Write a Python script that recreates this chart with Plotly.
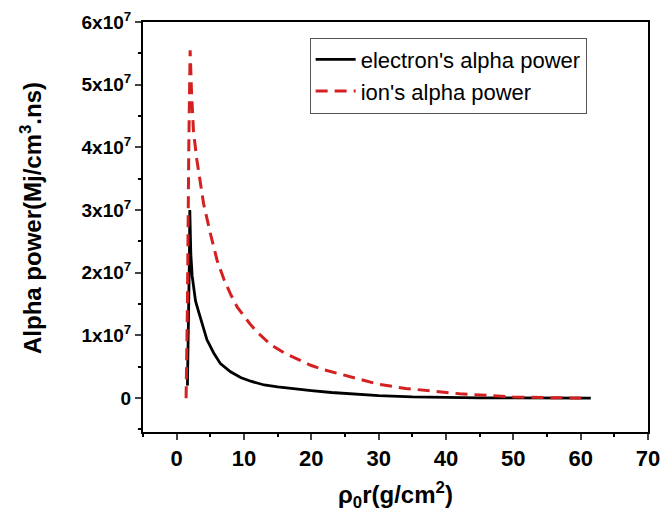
import plotly.graph_objects as go

# electron's alpha power
electron_x = [1.6, 1.75, 1.9, 1.95, 2.1, 2.3, 2.5, 2.8, 3.2, 3.5, 4.0, 4.5, 5.5, 6.5, 8, 9.5, 11, 13, 15, 18, 20, 23, 26, 30, 35, 40, 45, 50, 55, 61.5]
electron_y = [0.2, 1.0, 2.3, 3.0, 2.3, 1.95, 1.75, 1.55, 1.4, 1.3, 1.1, 0.93, 0.72, 0.55, 0.42, 0.33, 0.27, 0.21, 0.18, 0.14, 0.12, 0.09, 0.065, 0.04, 0.02, 0.01, 0.005, 0.003, 0.001, 0.0]

# ion's alpha power
ion_x = [1.4, 1.6, 1.8, 2.0, 2.2, 2.5, 3.0, 3.5, 4.0, 5.0, 6.0, 7.0, 8.0, 9.0, 10, 11, 12, 14, 16, 18, 20, 22, 24, 27, 30, 34, 38, 42, 46, 50, 55, 61]
ion_y = [0.0, 1.5, 4.0, 5.55, 4.9, 4.25, 3.8, 3.43, 3.1, 2.63, 2.2, 1.9, 1.66, 1.45, 1.3, 1.17, 1.05, 0.85, 0.72, 0.62, 0.52, 0.45, 0.39, 0.30, 0.22, 0.155, 0.11, 0.07, 0.045, 0.02, 0.008, 0.0]

scale = 1e7
y_tick_vals = [0, 1, 2, 3, 4, 5, 6]
y_tick_text = ["0", "1x10<sup>7</sup>", "2x10<sup>7</sup>", "3x10<sup>7</sup>", "4x10<sup>7</sup>", "5x10<sup>7</sup>", "6x10<sup>7</sup>"]
x_tick_vals = [0, 10, 20, 30, 40, 50, 60, 70]
x_tick_text = ["0", "10", "20", "30", "40", "50", "60", "70"]
x_title = "ρ<sub>0</sub>r(g/cm<sup>2</sup>)"
y_title = "Alpha power(Mj/cm<sup>3</sup>.ns)"

FONT = "Liberation Sans, Arial, sans-serif"

fig = go.Figure()
fig.add_trace(go.Scatter(x=electron_x, y=[v * scale for v in electron_y], mode="lines",
                         name="electron's alpha power",
                         line=dict(color="black", width=2.8)))
fig.add_trace(go.Scatter(x=ion_x, y=[v * scale for v in ion_y], mode="lines",
                         name="ion's alpha power",
                         line=dict(color="#d42020", width=3, dash="12px,7px")))

fig.update_layout(
    width=667, height=519,
    margin=dict(l=143, r=19, t=22, b=87),
    plot_bgcolor="white", paper_bgcolor="white",
    font=dict(family=FONT, color="black"),
    showlegend=True,
    legend=dict(x=0.33, y=0.962, xanchor="left", yanchor="top",
                bordercolor="#555555", borderwidth=1, bgcolor="white",
                font=dict(size=22, family=FONT), tracegroupgap=0,
                itemwidth=40),
    annotations=[
        dict(text="<b>%s</b>" % x_title, xref="paper", yref="paper",
             x=0.5, y=(432 - 495) / 410, xanchor="center", yanchor="middle",
             showarrow=False, font=dict(size=24)),
        dict(text="<b>%s</b>" % y_title, xref="paper", yref="paper",
             x=(31 - 143) / 505, y=(432 - 218) / 410, xanchor="center", yanchor="middle",
             textangle=-90, showarrow=False, font=dict(size=24)),
    ],
)
fig.update_xaxes(
    range=[-5, 70], tickvals=x_tick_vals, ticktext=["<b>%s</b>" % t for t in x_tick_text],
    ticks="outside", ticklen=6, tickwidth=2, automargin=False,
    showline=True, linewidth=2, linecolor="black", mirror=True, showgrid=False, zeroline=False,
    tickfont=dict(size=22, family=FONT),
    minor=dict(dtick=5, tick0=0, ticks="outside", ticklen=3, tickwidth=2, tickcolor="black"),
)
fig.update_yaxes(
    range=[-0.54e7, 6e7], tickvals=[v * scale for v in y_tick_vals],
    ticktext=["<b>%s</b>" % t for t in y_tick_text],
    ticks="outside", ticklen=6, tickwidth=2, automargin=False,
    showline=True, linewidth=2, linecolor="black", mirror=True, showgrid=False, zeroline=False,
    tickfont=dict(size=19, family=FONT),
    minor=dict(dtick=0.5e7, tick0=0, ticks="outside", ticklen=3, tickwidth=2, tickcolor="black"),
)

fig.write_html("out.html", config={"displayModeBar": False},
               post_script="document.body.style.margin='0';")
